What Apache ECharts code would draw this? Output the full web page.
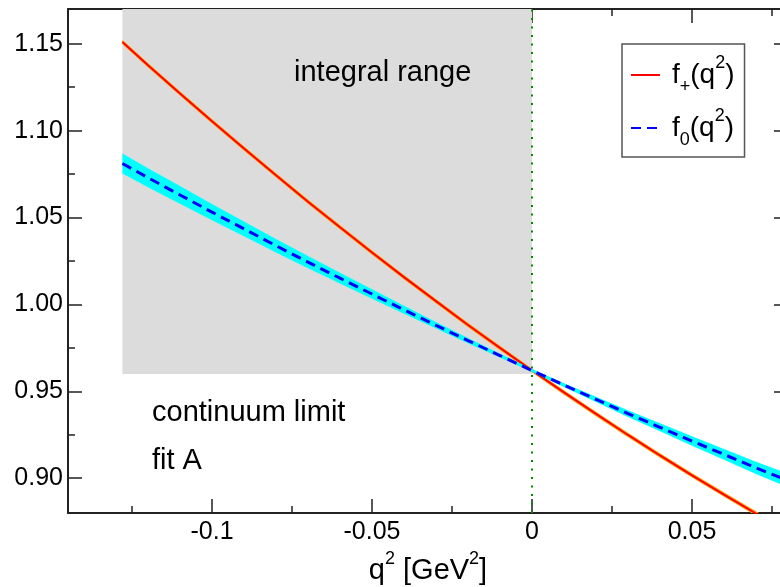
<!DOCTYPE html>
<html><head><meta charset="utf-8">
<script src="https://cdn.jsdelivr.net/npm/echarts@6/dist/echarts.min.js"></script>
<style>html,body{margin:0;padding:0;background:#fff}#c{width:780px;height:587px}</style>
</head><body><div id="c"></div>
<script>
// ---- data ----
const q2 = [-0.128,-0.12,-0.11,-0.10,-0.09,-0.08,-0.07,-0.06,-0.05,-0.04,-0.03,-0.02,-0.01,0,0.01,0.02,0.03,0.04,0.05,0.06,0.07,0.08];
const fPlus = [1.151,1.1377,1.1214,1.1054,1.0897,1.0743,1.0591,1.0444,1.0299,1.0157,1.0019,0.9882,0.9750,0.962,0.9494,0.9370,0.9249,0.9131,0.9017,0.8906,0.8797,0.8691];
const fPlusErr = [0.0013,0.0013,0.0013,0.0013,0.0013,0.0013,0.0013,0.0013,0.0013,0.0013,0.0013,0.0013,0.0013,0.0012,0.0013,0.0013,0.0013,0.0013,0.0013,0.0013,0.0013,0.0013];
const fZero = [1.0811,1.0729,1.0630,1.0531,1.0435,1.0338,1.0244,1.0151,1.0060,0.9969,0.9880,0.9792,0.9706,0.962,0.9536,0.9454,0.9372,0.9293,0.9214,0.9137,0.9060,0.8986];
const fZeroErr = [0.0058,0.0055,0.0051,0.0047,0.0043,0.0039,0.0035,0.0031,0.0027,0.0023,0.0019,0.0015,0.0011,0.0008,0.0011,0.0015,0.0019,0.0023,0.0027,0.0031,0.0035,0.0039];
const integralRangeX = [-0.128, 0];
const integralRangeY = [0.96, 1.17];
const zeroLineX = [0, 0];
const zeroLineY = [0.88, 1.17];
const xRange = [-0.145, 0.08];
const yRange = [0.88, 1.17];
const xMajorTicks = [-0.1, -0.05, 0, 0.05];
const xMinorTicks = [-0.125, -0.075, -0.025, 0.025, 0.075];
const yMajorTicks = [0.90, 0.95, 1.00, 1.05, 1.10, 1.15];
const yMinorTicks = [0.925, 0.975, 1.025, 1.075, 1.125];
const seriesNames = ['fplus', 'fzero'];
const legendLabels = ['{m|f}{sb|+}{m|(q}{sp|2}{m|)}', '{m|f}{sb|0}{m|(q}{sp|2}{m|)}'];
const xTitle = '{m|q}{sp|2}{m| [GeV}{sp|2}{m|]}';
const annotations = ['integral range', 'continuum limit', 'fit A'];

// ---- chart ----
const FONT = '"Liberation Sans", Arial, Helvetica, sans-serif';
const AX = '#222';
const chart = echarts.init(document.getElementById('c'), null, {renderer: 'canvas'});

function xAxisDef(pos, ticks, len, withLabels, withLine) {
  return {
    type: 'value', position: pos, min: xRange[0], max: xRange[1], gridIndex: 0,
    axisLine: {show: withLine, onZero: false, lineStyle: {color: AX, width: 2}},
    axisTick: {show: true, inside: true, length: len, customValues: ticks, lineStyle: {color: AX, width: 1.5}},
    axisLabel: withLabels ? {show: true, customValues: ticks, margin: 7, fontSize: 25, fontFamily: FONT, color: '#000',
      formatter: v => String(v)} : {show: false},
    splitLine: {show: false}
  };
}
function yAxisDef(pos, ticks, len, withLabels, withLine) {
  return {
    type: 'value', position: pos, min: yRange[0], max: yRange[1], gridIndex: 0,
    axisLine: {show: withLine, onZero: false, lineStyle: {color: AX, width: 2}},
    axisTick: {show: true, inside: true, length: len, customValues: ticks, lineStyle: {color: AX, width: 1.5}},
    axisLabel: withLabels ? {show: true, customValues: ticks, margin: 5, fontSize: 25, fontFamily: FONT, color: '#000',
      formatter: v => v.toFixed(2)} : {show: false},
    splitLine: {show: false}
  };
}

const xMain = xAxisDef('bottom', xMajorTicks, 14, true, true);
xMain.name = xTitle;
xMain.nameLocation = 'middle';
xMain.nameGap = 34;
xMain.nameTextStyle = {
  rich: {
    m: {fontSize: 29, fontFamily: FONT, color: '#000', lineHeight: 42},
    sp: {fontSize: 18, fontFamily: FONT, color: '#000', lineHeight: 18, verticalAlign: 'top'}
  }
};

const richLegend = {
  m: {fontSize: 28, fontFamily: FONT, color: '#000', lineHeight: 42},
  sp: {fontSize: 18, fontFamily: FONT, color: '#000', lineHeight: 18, verticalAlign: 'top'},
  sb: {fontSize: 18, fontFamily: FONT, color: '#000', lineHeight: 10, verticalAlign: 'bottom'}
};

// band polygon drawn through the axis scales (api.coord)
function bandSeries(name, centre, err, color, z) {
  return {
    type: 'custom', name: name, silent: true, z: z, clip: true,
    data: q2.map((x, i) => [x, centre[i] - err[i], centre[i] + err[i]]),
    encode: {x: 0, y: [1, 2]},
    renderItem: (params, api) => {
      if (params.dataIndex !== 0) return null;
      const up = [], lo = [];
      for (let i = 0; i < q2.length; i++) {
        up.push(api.coord([q2[i], centre[i] + err[i]]));
        lo.unshift(api.coord([q2[i], centre[i] - err[i]]));
      }
      return {type: 'polygon', shape: {points: up.concat(lo)}, style: {fill: color, stroke: null}};
    }
  };
}

const option = {
  animation: false,
  backgroundColor: '#fff',
  grid: {left: 68, right: -8, top: 9, bottom: 74, containLabel: false, outerBoundsMode: 'none'},
  xAxis: [
    xMain,
    xAxisDef('bottom', xMinorTicks, 7, false, false),
    xAxisDef('top', xMajorTicks, 14, false, true),
    xAxisDef('top', xMinorTicks, 7, false, false)
  ],
  yAxis: [
    yAxisDef('left', yMajorTicks, 14, true, true),
    yAxisDef('left', yMinorTicks, 7, false, false),
    yAxisDef('right', yMajorTicks, 14, false, true),
    yAxisDef('right', yMinorTicks, 7, false, false)
  ],
  legend: {
    show: true, data: seriesNames, orient: 'vertical', left: 622, top: 44,
    itemWidth: 29, itemHeight: 14, itemGap: 11,
    padding: [10, 10, 8, 8], borderColor: '#555', borderWidth: 1.5, borderRadius: 0,
    backgroundColor: '#fff', selectedMode: false,
    itemStyle: {opacity: 0},
    formatter: n => legendLabels[seriesNames.indexOf(n)],
    textStyle: {rich: richLegend, padding: [0, 0, 0, 7]}
  },
  graphic: [
    {type: 'text', left: 294, top: 58, z: 50, style: {text: annotations[0], font: '29px ' + FONT, fill: '#000'}},
    {type: 'text', left: 152, top: 398, z: 50, style: {text: annotations[1], font: '29px ' + FONT, fill: '#000'}},
    {type: 'text', left: 152, top: 446, z: 50, style: {text: annotations[2], font: '29px ' + FONT, fill: '#000'}}
  ],
  series: [
    {
      type: 'custom', name: 'range', silent: true, z: 1,
      data: [[integralRangeX[0], integralRangeX[1], integralRangeY[0], integralRangeY[1]]],
      encode: {x: [0, 1], y: [2, 3]},
      renderItem: (params, api) => {
        const p0 = api.coord([api.value(0), api.value(3)]);
        const p1 = api.coord([api.value(1), api.value(2)]);
        return {type: 'rect', shape: {x: p0[0], y: p0[1], width: p1[0] - p0[0], height: p1[1] - p0[1]},
          style: {fill: '#dcdcdc'}};
      }
    },
    {
      type: 'line', name: 'zero', silent: true, z: 2, symbol: 'none',
      data: zeroLineX.map((x, i) => [x, zeroLineY[i]]),
      lineStyle: {color: '#008c00', width: 2, type: [2, 6.5], cap: 'butt'}
    },
    bandSeries('fplusBand', fPlus, fPlusErr, '#ffa500', 3),
    {
      type: 'line', name: 'fplus', z: 4, symbol: 'none',
      data: q2.map((x, i) => [x, fPlus[i]]),
      lineStyle: {color: '#ff0000', width: 2}, itemStyle: {color: '#ff0000'}
    },
    bandSeries('fzeroBand', fZero, fZeroErr, '#00ffff', 5),
    {
      type: 'line', name: 'fzero', z: 6, symbol: 'none',
      data: q2.map((x, i) => [x, fZero[i]]),
      lineStyle: {color: '#0000ff', width: 3, type: [10, 6]}, itemStyle: {color: '#0000ff'}
    }
  ]
};
chart.setOption(option);
</script></body></html>
